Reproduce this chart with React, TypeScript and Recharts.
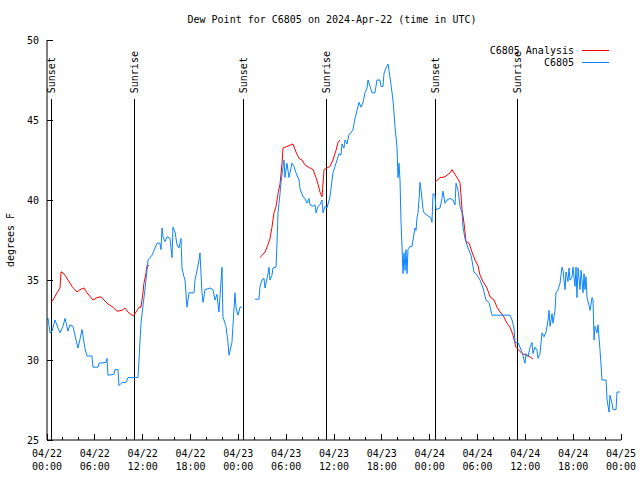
import React from "react"
import { LineChart, Line, XAxis, YAxis, ReferenceLine } from "recharts"

const FONT = "'DejaVu Sans Mono', monospace"
const RED = "#ff0000"
const BLUE = "#0a84ff"

// time = hours since 04/22 00:00 UTC, value = dew point (degrees F)
const obsSeg1: [number, number][] = [
    [0.0, 32.5], [0.13, 32.6], [0.38, 31.7], [0.63, 31.8], [1.0, 32.5], [1.38, 32.0], [1.63, 31.7],
    [2.0, 32.1], [2.26, 32.6], [2.63, 31.8], [2.88, 32.2], [3.26, 32.1], [3.64, 31.25], [3.89, 30.75],
    [4.14, 31.3], [4.39, 31.9], [4.77, 30.7], [5.02, 30.25], [5.64, 30.25], [5.77, 29.55], [6.4, 29.55],
    [6.52, 29.8], [7.4, 29.85], [7.52, 30.1], [7.65, 29.05], [8.4, 29.1], [8.53, 29.4], [8.9, 29.4],
    [9.03, 28.4], [9.41, 28.6], [9.91, 28.6], [10.16, 28.9], [11.41, 28.9], [11.54, 30.0], [11.79, 32.3],
    [12.04, 33.4], [12.29, 34.4], [12.54, 35.6], [12.67, 36.25], [13.17, 36.55], [13.55, 37.0], [13.8, 37.3],
    [14.17, 37.3], [14.3, 36.9], [14.43, 38.25], [14.55, 37.7], [14.8, 37.4], [15.05, 37.7], [15.43, 37.6],
    [15.68, 36.4], [15.8, 38.3], [16.06, 38.0], [16.31, 37.2], [16.56, 37.0], [16.81, 37.6], [16.93, 35.75],
    [17.18, 35.2], [17.31, 35.0], [17.56, 33.3], [17.81, 34.2], [18.44, 34.2], [18.56, 35.0], [18.82, 35.6],
    [19.07, 36.25], [19.19, 36.7], [19.44, 34.2], [19.57, 33.6], [19.82, 34.4], [20.45, 34.5], [20.82, 34.4],
    [21.07, 33.75], [21.32, 34.1], [21.57, 33.0], [21.95, 35.8], [22.07, 32.7], [22.45, 32.1], [22.7, 31.1],
    [22.83, 30.3], [23.2, 31.1], [23.33, 32.2], [23.58, 34.2], [23.71, 33.25], [23.96, 32.8], [24.21, 33.3],
    [24.46, 33.3],
]

const obsSeg2: [number, number][] = [
    [26.09, 33.8], [26.59, 33.8], [26.72, 34.6], [26.97, 35.0], [27.22, 35.1], [27.35, 34.5], [27.47, 34.8],
    [27.72, 35.4], [27.85, 35.8], [27.97, 35.0], [28.22, 35.3], [28.35, 35.75], [28.73, 35.8], [28.85, 37.3],
    [28.98, 39.2], [29.1, 39.8], [29.23, 40.4], [29.35, 41.1], [29.73, 42.5], [29.85, 41.4], [30.1, 42.3],
    [30.36, 41.4], [30.73, 42.3], [30.98, 42.1], [31.23, 41.7], [31.61, 41.25], [31.74, 40.7], [32.11, 40.2],
    [32.36, 40.1], [32.61, 39.8], [32.86, 40.1], [32.99, 39.7], [33.37, 39.6], [33.62, 39.7], [33.74, 39.2],
    [33.99, 39.6], [34.24, 39.7], [34.5, 40.0], [34.62, 39.2], [34.87, 39.6], [35.12, 39.5], [35.5, 40.2],
    [35.87, 41.7], [36.13, 42.1], [36.38, 42.5], [36.63, 42.9], [36.88, 42.8], [37.0, 43.5], [37.25, 43.25],
    [37.38, 43.75], [37.63, 43.5], [37.88, 44.1], [38.13, 44.2], [38.38, 44.4], [38.63, 45.1], [38.89, 45.6],
    [39.14, 46.1], [39.39, 45.8], [39.64, 46.1], [39.89, 46.7], [40.14, 47.0], [40.27, 47.5], [40.52, 47.1],
    [40.77, 46.7], [41.14, 46.7], [41.39, 47.5], [41.77, 47.5], [41.9, 47.1], [42.15, 47.1], [42.27, 47.9],
    [42.52, 48.25], [42.77, 48.5], [42.9, 48.1], [43.15, 47.2], [43.4, 46.25], [43.65, 44.6], [43.9, 43.3],
    [44.03, 41.4], [44.15, 42.3], [44.28, 41.25], [44.4, 38.75], [44.66, 35.4], [44.78, 36.7], [44.91, 35.6],
    [45.03, 36.9], [45.16, 35.4], [45.28, 36.9], [45.53, 37.1], [45.79, 37.1], [45.91, 37.5], [46.16, 38.25],
    [46.29, 38.1], [46.41, 38.9], [46.54, 39.2], [46.66, 40.0], [46.79, 41.1], [46.92, 40.6], [47.17, 39.4],
    [47.29, 39.2], [47.79, 39.0], [48.17, 38.9], [48.29, 38.6], [48.42, 40.4], [48.67, 40.3], [48.79, 39.4],
    [49.3, 39.5], [49.55, 40.1], [49.67, 40.55], [49.92, 39.8], [50.18, 40.0], [50.55, 40.1], [50.93, 40.0],
    [51.18, 39.7], [51.31, 41.05], [51.56, 40.6], [51.81, 39.6], [52.06, 39.2], [52.18, 38.3], [52.43, 37.6],
    [52.81, 37.0], [53.19, 36.55], [53.56, 35.5], [53.94, 35.3], [54.32, 35.0], [54.69, 34.5], [55.07, 33.75],
    [55.44, 33.6], [55.82, 32.8], [58.08, 32.8], [58.33, 32.5], [58.58, 32.0], [58.71, 31.1], [59.08, 31.1],
    [59.33, 30.8], [59.71, 30.3], [59.83, 30.0], [59.96, 29.8], [60.09, 30.4], [60.34, 30.2], [60.59, 30.8],
    [60.84, 31.1], [60.96, 30.4], [61.21, 30.8], [61.47, 30.6], [61.59, 30.1], [61.84, 30.4], [62.09, 31.7],
    [62.34, 31.45], [62.6, 31.75], [62.85, 32.5], [62.97, 33.1], [63.1, 32.1], [63.35, 32.9], [63.47, 32.3],
    [63.72, 33.1], [63.85, 34.2], [64.1, 34.4], [64.35, 34.8], [64.6, 35.8], [64.73, 35.6], [64.98, 34.4],
    [65.1, 35.5], [65.35, 34.9], [65.48, 35.75], [65.61, 35.0], [65.86, 35.2], [65.98, 35.8], [66.23, 34.6],
    [66.36, 35.8], [66.48, 33.9], [66.61, 35.75], [66.86, 34.4], [66.99, 35.6], [67.24, 34.2], [67.36, 35.4],
    [67.49, 34.4], [67.61, 35.2], [67.74, 33.9], [67.99, 33.4], [68.12, 33.1], [68.37, 33.9], [68.49, 33.75],
    [68.62, 31.25], [68.74, 32.1], [68.99, 31.7], [69.12, 32.2], [69.37, 30.6], [69.62, 28.75], [70.12, 28.75],
    [70.25, 27.5], [70.5, 26.75], [70.62, 27.8], [70.87, 27.3], [71.0, 26.9], [71.38, 26.9], [71.5, 28.0],
    [71.88, 28.0],
]

const anaSeg1: [number, number][] = [
    [0.5, 33.6], [0.75, 33.75], [1.25, 34.2], [1.63, 34.5], [1.76, 35.5], [1.88, 35.5], [2.26, 35.3],
    [2.63, 35.0], [3.14, 34.6], [3.76, 34.25], [4.14, 34.4], [4.64, 34.5], [5.02, 34.2], [5.77, 33.75],
    [6.27, 33.9], [6.77, 33.95], [7.15, 33.75], [7.65, 33.5], [8.28, 33.3], [8.78, 33.05], [9.41, 33.1],
    [9.78, 33.25], [10.16, 33.0], [10.66, 32.8], [10.91, 32.8], [11.29, 33.1], [11.54, 33.3], [11.79, 33.3],
    [12.04, 34.2], [12.16, 34.8], [12.41, 35.4], [12.54, 35.9], [12.79, 35.9],
]

const anaSeg2: [number, number][] = [
    [26.72, 36.4], [26.97, 36.55], [27.35, 36.75], [27.72, 37.2], [27.97, 37.6], [28.22, 38.3], [28.47, 39.2],
    [28.73, 39.6], [28.98, 40.4], [29.23, 41.0], [29.48, 42.3], [29.6, 43.25], [29.85, 43.3], [30.36, 43.4],
    [30.86, 43.5], [31.23, 43.0], [31.61, 42.6], [31.99, 42.5], [32.36, 42.2], [32.61, 42.1], [32.99, 42.0],
    [33.37, 41.9], [33.74, 41.4], [33.99, 41.0], [34.24, 40.5], [34.5, 40.2], [34.75, 41.9], [35.12, 42.0],
    [35.5, 42.1], [35.87, 42.5], [36.25, 43.1], [36.5, 43.6], [36.75, 43.75],
]

const anaSeg3: [number, number][] = [
    [48.67, 41.1], [49.3, 41.4], [49.92, 41.45], [50.55, 41.7], [50.8, 41.9], [51.18, 41.6], [51.56, 41.3],
    [51.81, 41.05], [52.06, 39.4], [52.31, 38.55], [52.56, 37.4], [52.94, 37.3], [53.31, 36.75], [53.69, 36.25],
    [54.06, 35.9], [54.32, 35.3], [54.69, 34.9], [55.19, 34.5], [55.57, 33.95], [56.07, 33.75], [56.45, 33.3],
    [56.82, 33.0], [57.2, 32.8], [57.7, 32.3], [58.08, 32.05], [58.46, 31.55], [58.83, 30.8], [59.21, 30.6],
    [59.59, 30.4], [60.21, 30.3], [60.59, 30.2], [60.96, 30.05],
]

const sunEvents = [
    { label: "Sunset", hour: 0.56 },
    { label: "Sunrise", hour: 10.95 },
    { label: "Sunset", hour: 24.62 },
    { label: "Sunrise", hour: 35.04 },
    { label: "Sunset", hour: 48.71 },
    { label: "Sunrise", hour: 58.99 },
]

const xTicks = Array.from({ length: 37 }, (_, i) => i * 2)
const xLabelDates = ["04/22", "04/22", "04/22", "04/22", "04/23", "04/23", "04/23", "04/23", "04/24", "04/24", "04/24", "04/24", "04/25"]
const xLabelTimes = ["00:00", "06:00", "12:00", "18:00", "00:00", "06:00", "12:00", "18:00", "00:00", "06:00", "12:00", "18:00", "00:00"]
const yTicks = [25, 30, 35, 40, 45, 50]

const toRows = (pts: [number, number][]) => pts.map(([t, v]) => ({ t, v }))

const BottomTick = (props: any) => {
    const { x, y, payload } = props
    const h = payload.value
    const major = h % 6 === 0
    const idx = h / 6
    return (
        <g>
            <line x1={x} y1={y} x2={x} y2={y - (major ? 6 : 3)} stroke="#000" shapeRendering="crispEdges" />
            {major && (
                <text x={x} y={y + 17} textAnchor="middle" fontFamily={FONT} fontSize={10} fill="#000">
                    <tspan x={x}>{xLabelDates[idx]}</tspan>
                    <tspan x={x} dy={13}>{xLabelTimes[idx]}</tspan>
                </text>
            )}
        </g>
    )
}

const TopTick = (props: any) => {
    const { x, y, payload } = props
    const major = payload.value % 6 === 0
    return <line x1={x} y1={y} x2={x} y2={y + (major ? 6 : 3)} stroke="#000" shapeRendering="crispEdges" />
}

const LeftTick = (props: any) => {
    const { x, y, payload } = props
    return (
        <g>
            <line x1={x} y1={y} x2={x + 6} y2={y} stroke="#000" shapeRendering="crispEdges" />
            <text x={x - 8} y={y} dy="0.35em" textAnchor="end" fontFamily={FONT} fontSize={10} fill="#000">
                {payload.value}
            </text>
        </g>
    )
}

const RightTick = (props: any) => {
    const { x, y } = props
    return <line x1={x} y1={y} x2={x - 6} y2={y} stroke="#000" shapeRendering="crispEdges" />
}

const SunLabel = (props: any) => {
    const { viewBox, text } = props
    if (!viewBox) return null
    const x = viewBox.x
    const y = viewBox.y - 6
    return (
        <text
            x={x}
            y={y}
            dy="0.35em"
            transform={`rotate(-90, ${x}, ${y})`}
            textAnchor="start"
            fontFamily={FONT}
            fontSize={10}
            fill="#000"
        >
            {text}
        </text>
    )
}

export default function App() {
    return (
        <div style={{ position: "absolute", left: 0, top: 0, width: 640, height: 480, background: "#fff" }}>
            <LineChart width={640} height={480} data={[]} margin={{ top: 40, right: 19, bottom: 0, left: 0 }}>
                <XAxis
                    xAxisId="b"
                    dataKey="t"
                    type="number"
                    domain={[0, 72]}
                    ticks={xTicks}
                    interval={0}
                    height={40}
                    tickLine={false}
                    tickSize={0}
                    tickMargin={0}
                    axisLine={{ stroke: "#000" }}
                    tick={<BottomTick />}
                    allowDataOverflow
                />
                <XAxis
                    xAxisId="top"
                    orientation="top"
                    dataKey="t"
                    type="number"
                    domain={[0, 72]}
                    ticks={xTicks}
                    interval={0}
                    height={0}
                    tickLine={false}
                    tickSize={0}
                    tickMargin={0}
                    axisLine={{ stroke: "#000" }}
                    tick={<TopTick />}
                    allowDataOverflow
                />
                <YAxis
                    yAxisId="l"
                    type="number"
                    domain={[25, 50]}
                    ticks={yTicks}
                    interval={0}
                    width={47}
                    tickLine={false}
                    tickSize={0}
                    tickMargin={0}
                    axisLine={{ stroke: "#000" }}
                    tick={<LeftTick />}
                    allowDataOverflow
                />
                <YAxis
                    yAxisId="r"
                    orientation="right"
                    type="number"
                    domain={[25, 50]}
                    ticks={yTicks}
                    interval={0}
                    width={0}
                    tickLine={false}
                    tickSize={0}
                    tickMargin={0}
                    axisLine={{ stroke: "#000" }}
                    tick={<RightTick />}
                    allowDataOverflow
                />
                {sunEvents.map((s, i) => (
                    <ReferenceLine
                        key={i}
                        xAxisId="b"
                        yAxisId="l"
                        segment={[{ x: s.hour, y: 25 }, { x: s.hour, y: 46.3 }]}
                        stroke="#000"
                        strokeWidth={1}
                        shapeRendering="crispEdges"
                        label={<SunLabel text={s.label} />}
                    />
                ))}
                {[anaSeg1, anaSeg2, anaSeg3].map((seg, i) => (
                    <Line
                        key={"a" + i}
                        xAxisId="b"
                        yAxisId="l"
                        data={toRows(seg)}
                        dataKey="v"
                        type="linear"
                        stroke={RED}
                        strokeWidth={1}
                        dot={false}
                        activeDot={false}
                        isAnimationActive={false}
                    />
                ))}
                {[obsSeg1, obsSeg2].map((seg, i) => (
                    <Line
                        key={"o" + i}
                        xAxisId="b"
                        yAxisId="l"
                        data={toRows(seg)}
                        dataKey="v"
                        type="linear"
                        stroke={BLUE}
                        strokeWidth={1}
                        dot={false}
                        activeDot={false}
                        isAnimationActive={false}
                    />
                ))}
            </LineChart>
            <svg width={640} height={480} style={{ position: "absolute", left: 0, top: 0, pointerEvents: "none" }}>
                <text x={332} y={23} textAnchor="middle" fontFamily={FONT} fontSize={10} fill="#000">
                    Dew Point for C6805 on 2024-Apr-22 (time in UTC)
                </text>
                <text x={14} y={240} transform="rotate(-90, 14, 240)" textAnchor="middle" fontFamily={FONT} fontSize={10} fill="#000">
                    degrees F
                </text>
                <text x={574} y={50} dy="0.35em" textAnchor="end" fontFamily={FONT} fontSize={10} fill="#000">
                    C6805 Analysis
                </text>
                <line x1={582} y1={50.5} x2={609} y2={50.5} stroke={RED} />
                <text x={574} y={62.5} dy="0.35em" textAnchor="end" fontFamily={FONT} fontSize={10} fill="#000">
                    C6805
                </text>
                <line x1={582} y1={62.5} x2={609} y2={62.5} stroke={BLUE} />
            </svg>
        </div>
    )
}
